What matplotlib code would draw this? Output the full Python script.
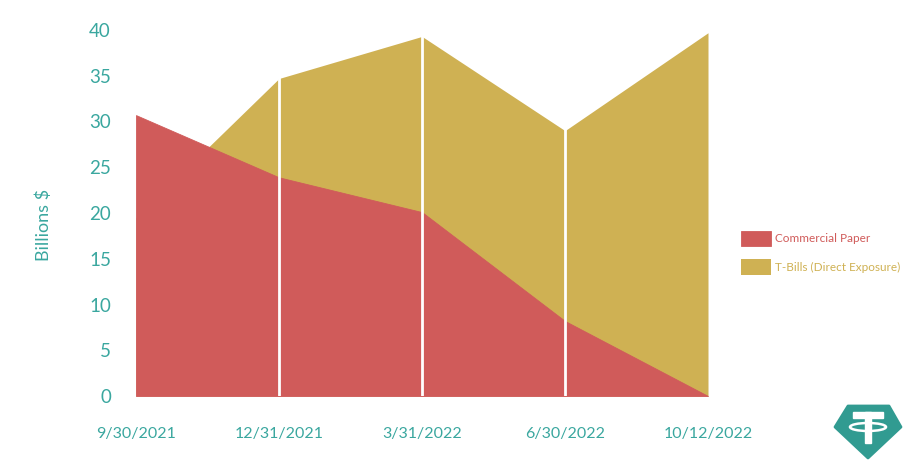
import matplotlib
matplotlib.use("Agg")
import matplotlib.pyplot as plt
from matplotlib.patches import Polygon, Ellipse, Rectangle

# data (billions $)
dates = ["9/30/2021", "12/31/2021", "3/31/2022", "6/30/2022", "10/12/2022"]
commercial_paper = [30.7, 23.9, 20.1, 8.2, 0.0]
t_bills = [19.5, 34.7, 39.3, 29.0, 39.7]

teal = "#3aa79f"
red = "#d05b5a"
gold = "#cfb153"

plt.rcParams["font.family"] = ["Lato", "DejaVu Sans"]

fig = plt.figure(figsize=(9.22, 4.66), dpi=100)
ax = fig.add_axes([136 / 922, 1 - 396 / 466, 572 / 922, 366 / 466])

x = list(range(len(dates)))
ax.fill_between(x, 0, t_bills, color=gold, linewidth=0, label="T-Bills (Direct Exposure)", zorder=1)
ax.fill_between(x, 0, commercial_paper, facecolor=red, edgecolor=red, linewidth=0.6,
                label="Commercial Paper", zorder=2)

# white gridlines over the areas
ax.vlines(x[1:-1], 0, 40, colors="white", linewidth=2, zorder=3)

ax.set_xlim(0, 4)
ax.set_ylim(0, 40)
ax.set_xticks(x)
ax.set_xticklabels(dates)
ax.set_yticks(range(0, 41, 5))
ax.tick_params(axis="y", length=0, pad=18, labelsize=13.5, labelcolor=teal)
ax.tick_params(axis="x", length=0, pad=22, labelsize=11.5, labelcolor=teal)
for s in ax.spines.values():
    s.set_visible(False)
ax.set_ylabel("Billions $", color=teal, fontsize=13)
ax.yaxis.set_label_coords(-84 / 572, 171 / 366)

handles, labels = ax.get_legend_handles_labels()
leg = fig.legend(handles[::-1], labels[::-1], loc="upper left",
                 bbox_to_anchor=(730 / 922, 1 - 220 / 466), frameon=False,
                 fontsize=8.5, handlelength=2.55, handleheight=1.6,
                 labelspacing=1.15, handletextpad=0.35)
for t, c in zip(leg.get_texts(), [red, gold]):
    t.set_color(c)

# Tether logo, drawn in pixel coordinates
ov = fig.add_axes([0, 0, 1, 1], zorder=5)
ov.set_xlim(0, 922)
ov.set_ylim(466, 0)
ov.axis("off")
logo = "#319b91"
ov.add_patch(Polygon([(848, 406), (889, 406), (901, 427), (868, 458), (835, 427)],
                     closed=True, facecolor=logo, edgecolor=logo, linewidth=2, joinstyle="round"))
ov.add_patch(Rectangle((853, 412), 30, 6, color="white"))
ov.add_patch(Rectangle((865, 412), 6, 31, color="white"))
ov.add_patch(Ellipse((868, 427), 36, 8, fill=False, edgecolor="white", linewidth=1.8))

fig.savefig("out.png", dpi=100, facecolor="white")
